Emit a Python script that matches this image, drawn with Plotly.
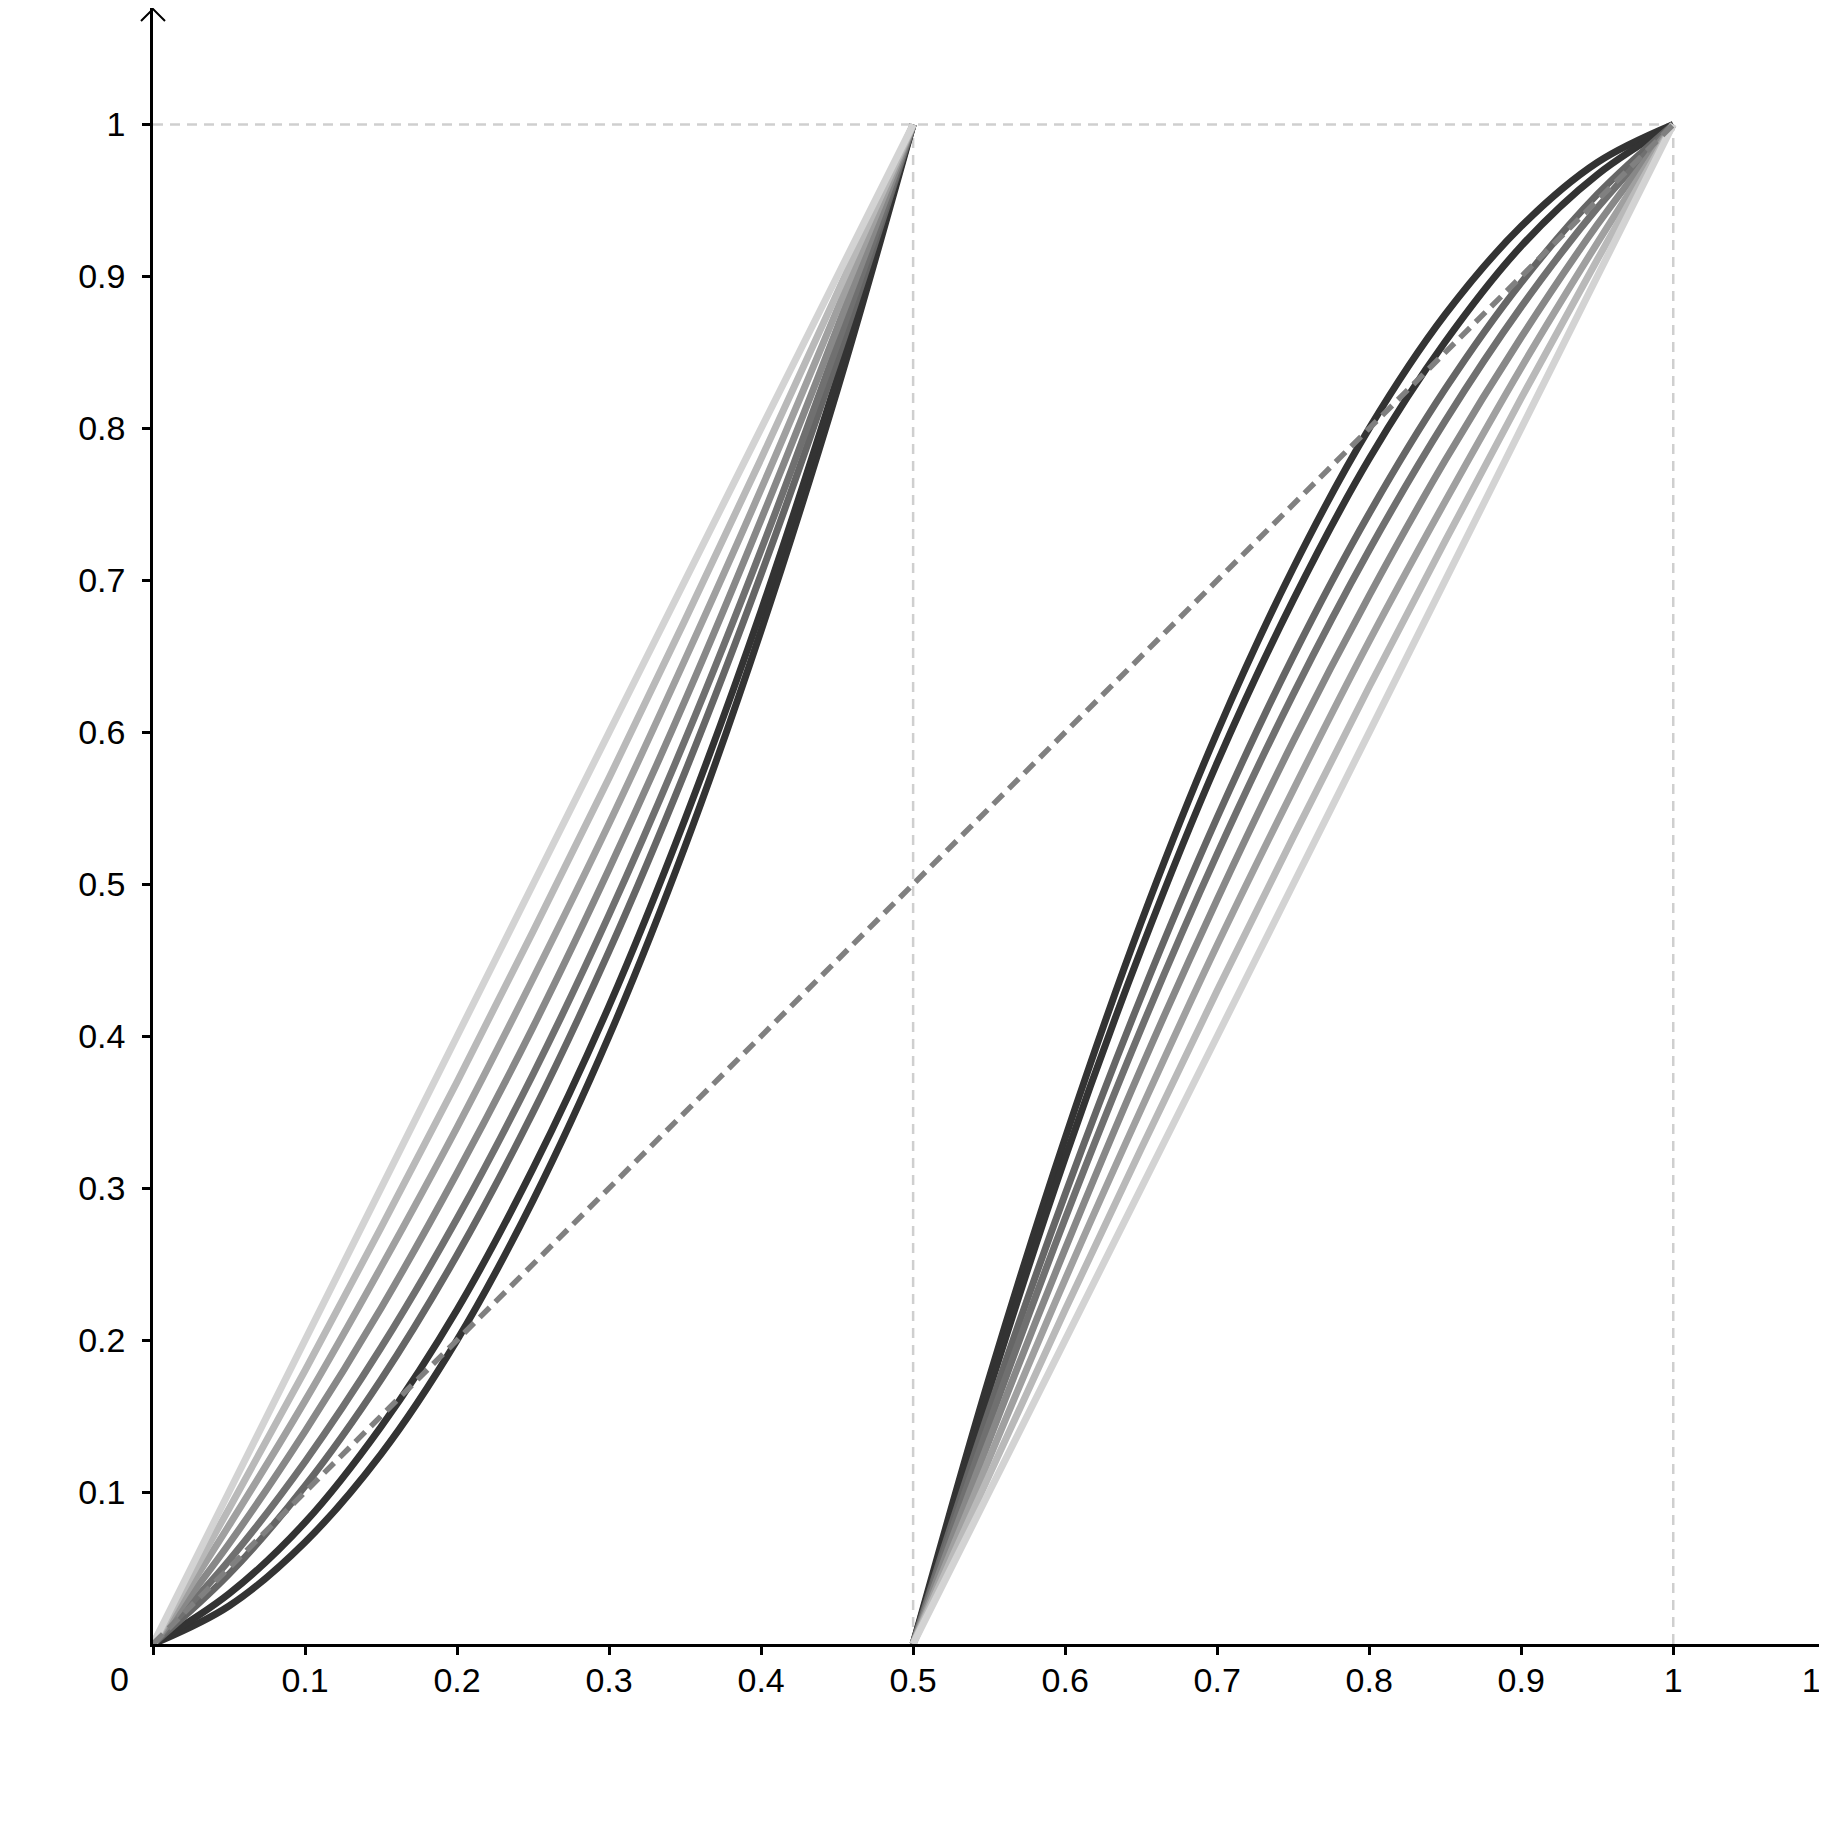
import plotly.graph_objects as go

# sample positions on each branch
x_left = [0, 0.05, 0.1, 0.15, 0.2, 0.25, 0.3, 0.35, 0.4, 0.45, 0.5]
x_right = [0.5, 0.55, 0.6, 0.65, 0.7, 0.75, 0.8, 0.85, 0.9, 0.95, 1.0]

# left branch, from the straight light one to the darkest one
left_1 = [0, 0.100, 0.200, 0.300, 0.400, 0.500, 0.600, 0.700, 0.800, 0.900, 1]
left_2 = [0, 0.089, 0.180, 0.274, 0.370, 0.469, 0.570, 0.674, 0.780, 0.889, 1]
left_3 = [0, 0.078, 0.160, 0.248, 0.340, 0.438, 0.540, 0.648, 0.760, 0.878, 1]
left_4 = [0, 0.066, 0.140, 0.221, 0.310, 0.406, 0.510, 0.621, 0.740, 0.866, 1]
left_5 = [0, 0.055, 0.120, 0.195, 0.280, 0.375, 0.480, 0.595, 0.720, 0.855, 1]
left_6 = [0, 0.046, 0.104, 0.174, 0.256, 0.350, 0.456, 0.574, 0.704, 0.846, 1]
left_7 = [0, 0.033, 0.080, 0.143, 0.220, 0.313, 0.420, 0.543, 0.680, 0.833, 1]
left_8 = [0, 0.025, 0.067, 0.125, 0.200, 0.292, 0.400, 0.525, 0.667, 0.825, 1]

# right branch, same order
right_1 = [0, 0.100, 0.200, 0.300, 0.400, 0.500, 0.600, 0.700, 0.800, 0.900, 1]
right_2 = [0, 0.111, 0.220, 0.326, 0.430, 0.531, 0.630, 0.726, 0.820, 0.911, 1]
right_3 = [0, 0.122, 0.240, 0.352, 0.460, 0.562, 0.660, 0.752, 0.840, 0.922, 1]
right_4 = [0, 0.134, 0.260, 0.379, 0.490, 0.594, 0.690, 0.779, 0.860, 0.934, 1]
right_5 = [0, 0.145, 0.280, 0.405, 0.520, 0.625, 0.720, 0.805, 0.880, 0.945, 1]
right_6 = [0, 0.154, 0.296, 0.426, 0.544, 0.650, 0.744, 0.826, 0.896, 0.954, 1]
right_7 = [0, 0.167, 0.320, 0.457, 0.580, 0.687, 0.780, 0.857, 0.920, 0.967, 1]
right_8 = [0, 0.175, 0.333, 0.475, 0.600, 0.708, 0.800, 0.875, 0.933, 0.975, 1]

colors = ['#d3d3d3', '#b9b9b9', '#a0a0a0', '#888888', '#707070', '#666666', '#333333', '#333333']

diag_x = [0, 1]
diag_y = [0, 1]

xticks = [0, 0.1, 0.2, 0.3, 0.4, 0.5, 0.6, 0.7, 0.8, 0.9, 1, 1.1]
xticklabels = ['', '0.1', '0.2', '0.3', '0.4', '0.5', '0.6', '0.7', '0.8', '0.9', '1', '1.1']
yticks = [0.1, 0.2, 0.3, 0.4, 0.5, 0.6, 0.7, 0.8, 0.9, 1]
yticklabels = ['0.1', '0.2', '0.3', '0.4', '0.5', '0.6', '0.7', '0.8', '0.9', '1']

left = [left_1, left_2, left_3, left_4, left_5, left_6, left_7, left_8]
right = [right_1, right_2, right_3, right_4, right_5, right_6, right_7, right_8]

fig = go.Figure()

# light dashed guides
guide = dict(color='#cfcfcf', width=2.5, dash='10px,7px')
fig.add_trace(go.Scatter(x=[0, 1], y=[1, 1], mode='lines', line=guide, hoverinfo='skip'))
fig.add_trace(go.Scatter(x=[0.5, 0.5], y=[0, 1], mode='lines', line=guide, hoverinfo='skip'))
fig.add_trace(go.Scatter(x=[1, 1], y=[0, 1], mode='lines', line=guide, hoverinfo='skip'))

# darkest first so the light ones sit on top at the shared end points
for yl, yr, c in reversed(list(zip(left, right, colors))):
    fig.add_trace(go.Scatter(x=x_left, y=yl, mode='lines',
                             line=dict(color=c, width=7, shape='spline')))
    fig.add_trace(go.Scatter(x=x_right, y=yr, mode='lines',
                             line=dict(color=c, width=7, shape='spline')))

fig.add_trace(go.Scatter(x=diag_x, y=diag_y, mode='lines',
                         line=dict(color='#808080', width=5.5, dash='14px,8px')))

# origin label sits to the lower left of the corner
fig.add_annotation(x=0, y=0, text='0', showarrow=False, xanchor='center', yanchor='top',
                   xshift=-34, yshift=-14, font=dict(size=34, color='black'))

# arrow head on the y axis
fig.add_shape(type='path', xref='paper', yref='paper', xsizemode='pixel', ysizemode='pixel',
              xanchor=0, yanchor=1, path='M-12,-13 L0,-1 L12,-13',
              line=dict(color='black', width=2))

# the page body adds an 8px offset, so the margins are trimmed by that amount
fig.update_layout(
    width=1827, height=1826,
    margin=dict(l=145, r=0, t=0, b=190),
    plot_bgcolor='white', paper_bgcolor='white',
    showlegend=False,
    font=dict(family='Liberation Sans, Arial, sans-serif', size=34, color='black'),
)
fig.update_xaxes(range=[0, 1.1064], showgrid=False, zeroline=False, automargin=False,
                 showline=True, linecolor='black', linewidth=2.5,
                 ticks='outside', ticklen=8, tickwidth=2.5, tickcolor='black',
                 tickvals=xticks, ticktext=xticklabels, ticklabelstandoff=-4,
                 ticklabeloverflow='allow')
fig.update_yaxes(range=[0, 1.0767], showgrid=False, zeroline=False, automargin=False,
                 showline=True, linecolor='black', linewidth=2.5,
                 ticks='outside', ticklen=8, tickwidth=2.5, tickcolor='black',
                 tickvals=yticks, ticktext=yticklabels, ticklabelstandoff=10)

fig.write_html("out.html")
